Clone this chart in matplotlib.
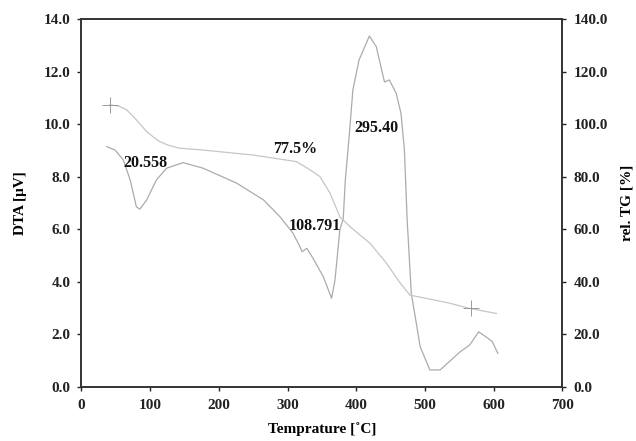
import matplotlib
matplotlib.use("Agg")
import matplotlib.pyplot as plt
from matplotlib.ticker import FormatStrFormatter

# DTA signal (temperature in degC, signal in uV)
dta_temp = [37, 49, 61, 71, 80, 85, 95, 109, 124, 148, 177, 226, 265, 289,
            308, 318, 321, 328, 337, 352, 364, 369, 376, 381, 384, 390, 395,
            404, 419, 429, 441, 448, 458, 465, 470, 474, 480, 493, 507, 522,
            551, 565, 578, 592, 598, 606]
dta_uv = [9.14, 9.01, 8.63, 7.87, 6.85, 6.76, 7.11, 7.87, 8.32, 8.53, 8.32,
          7.75, 7.11, 6.47, 5.84, 5.33, 5.14, 5.27, 4.89, 4.19, 3.37, 4.06,
          5.97, 6.40, 7.87, 9.65, 11.30, 12.44, 13.35, 12.95, 11.60, 11.68,
          11.17, 10.41, 9.01, 6.35, 3.56, 1.52, 0.64, 0.64, 1.33, 1.59, 2.09,
          1.84, 1.71, 1.27]

# relative TG mass (%)
tg_temp = [41, 55, 66, 80, 95, 105, 114, 128, 143, 177, 250, 313, 333, 347,
           362, 376, 391, 420, 444, 464, 478, 536, 565, 604]
tg_pct = [107.3, 106.8, 105.4, 101.6, 97.1, 95.0, 93.3, 91.8, 90.8, 90.1,
          88.2, 85.7, 82.5, 80.0, 73.6, 64.7, 60.9, 54.6, 47.0, 39.4, 34.9,
          31.8, 29.8, 27.9]

# TG step markers
mark_temp = [41, 567]
mark_pct = [107.3, 29.8]

# peak / step annotations: (temperature, DTA-axis height, text)
notes = [(93, 8.52, "20.558"), (311, 9.04, "77.5%"), (340, 6.13, "108.791"),
         (429, 9.84, "295.40")]

plt.rcParams["font.family"] = ["Liberation Serif", "DejaVu Serif"]
plt.rcParams["font.weight"] = "bold"

fig = plt.figure(figsize=(6.36, 4.41), dpi=100)
ax = fig.add_axes([0.128, 0.123, 0.7564, 0.834])
ax2 = ax.twinx()

ax.plot(dta_temp, dta_uv, color="#ababab", lw=0.9)
ax2.plot(tg_temp, tg_pct, color="#c6c6c6", lw=0.9)
ax2.plot(mark_temp, mark_pct, ls="none", marker="+", ms=12, mew=0.7,
         color="#9a9a9a")

for t, v, s in notes:
    ax.text(t, v, s, ha="center", va="center", fontsize=11.5,
            fontweight="bold", color="#111111")

ax.set_xlim(0, 700)
ax.set_ylim(0, 14)
ax2.set_ylim(0, 140)
ax.set_xticks(range(0, 701, 100))
ax.set_yticks([0, 2, 4, 6, 8, 10, 12, 14])
ax2.set_yticks(range(0, 141, 20))
ax.yaxis.set_major_formatter(FormatStrFormatter("%.1f"))
ax2.yaxis.set_major_formatter(FormatStrFormatter("%.1f"))

for a in (ax, ax2):
    a.tick_params(direction="out", length=3, width=1, labelsize=11,
                  colors="#222222", pad=5)
    for sp in a.spines.values():
        sp.set_linewidth(1.2)
        sp.set_color("#333333")
ax.tick_params(axis="x", pad=6)

ax.set_xlabel("Temprature [˚C]", fontsize=11, fontweight="bold", labelpad=7)
ax.set_ylabel("DTA [μV]", fontsize=11, fontweight="bold", labelpad=12)
ax2.set_ylabel("rel. TG [%]", fontsize=11, fontweight="bold", labelpad=9)

fig.savefig("out.png", dpi=100)
